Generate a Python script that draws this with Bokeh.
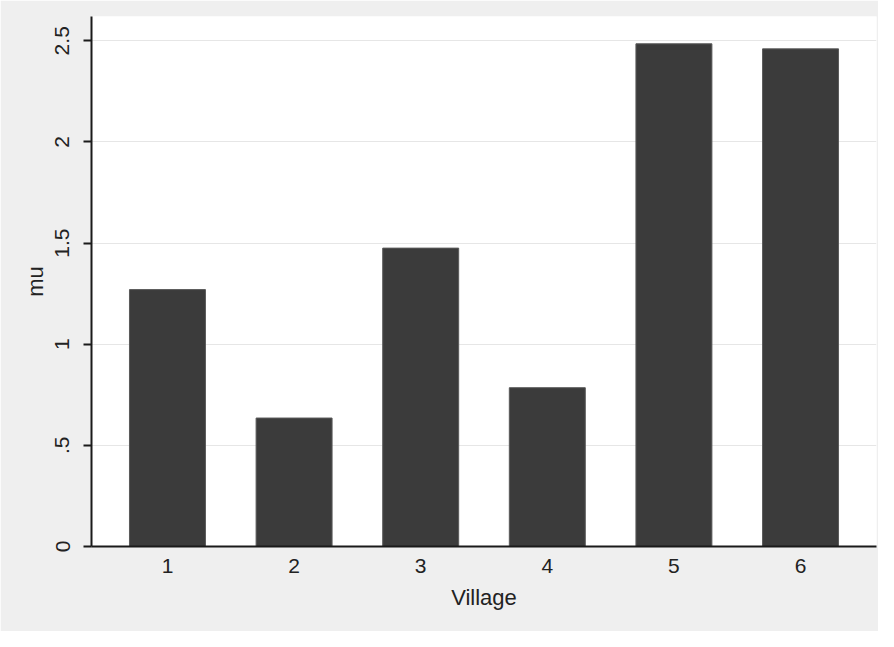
from bokeh.plotting import figure
from bokeh.models import Range1d, FixedTicker, ColumnDataSource
from bokeh.embed import file_html
from bokeh.resources import INLINE

village = [1, 2, 3, 4, 5, 6]
mu = [1.27, 0.635, 1.475, 0.785, 2.485, 2.46]
y_ticks = [0, 0.5, 1, 1.5, 2, 2.5]
y_tick_labels = ["0", ".5", "1", "1.5", "2", "2.5"]
x_tick_labels = ["1", "2", "3", "4", "5", "6"]

FONT = "Liberation Sans"
BG = "#efefef"

p = figure(width=878, height=631, output_backend="svg", toolbar_location=None,
           x_range=Range1d(0.4, 6.6), y_range=Range1d(0, 2.62),
           min_border_left=91, min_border_right=2, min_border_top=16, min_border_bottom=85)
p.background_fill_color = "white"
p.border_fill_color = BG
p.outline_line_color = None

src = ColumnDataSource(dict(x=village, top=mu))
p.vbar(x="x", top="top", bottom=0, width=0.6, source=src,
       fill_color="#3b3b3b", line_color="#5a5a5a", line_width=1)

# y axis
p.yaxis.ticker = FixedTicker(ticks=y_ticks)
p.yaxis.major_label_overrides = {t: l for t, l in zip(y_ticks, y_tick_labels)}
p.yaxis.major_label_orientation = "vertical"
p.yaxis.minor_tick_line_color = None
p.yaxis.major_tick_out = 8
p.yaxis.major_tick_in = 0
p.yaxis.major_label_standoff = 14
p.yaxis.axis_label = "mu"
p.yaxis.axis_label_standoff = 5

# x axis
p.xaxis.ticker = FixedTicker(ticks=village)
p.xaxis.major_label_overrides = {v: l for v, l in zip(village, x_tick_labels)}
p.xaxis.minor_tick_line_color = None
p.xaxis.major_tick_out = 0
p.xaxis.major_tick_in = 0
p.xaxis.major_label_standoff = 12
p.xaxis.axis_label = "Village"
p.xaxis.axis_label_standoff = 9

for ax in (p.xaxis, p.yaxis):
    ax.axis_line_color = "#1a1a1a"
    ax.axis_line_width = 2
    ax.major_tick_line_width = 2
    ax.major_label_text_font = FONT
    ax.major_label_text_font_size = "21px"
    ax.major_label_text_color = "#222222"
    ax.axis_label_text_font = FONT
    ax.axis_label_text_font_size = "22px"
    ax.axis_label_text_font_style = "normal"
    ax.axis_label_text_color = "#222222"
p.yaxis.major_tick_line_color = "#1a1a1a"
p.xaxis.major_tick_line_color = None

p.xgrid.grid_line_color = None
p.ygrid.ticker = FixedTicker(ticks=y_ticks)
p.ygrid.grid_line_color = "#e6e6e6"
p.ygrid.grid_line_width = 1

open("out.html", "w").write(file_html(p, INLINE))
